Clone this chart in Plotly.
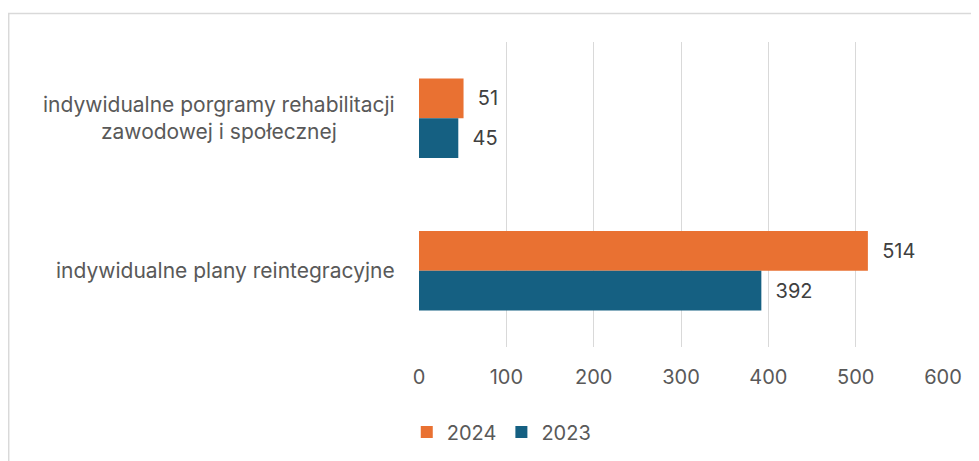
import plotly.graph_objects as go

categories = ["indywidualne porgramy rehabilitacji<br>zawodowej i społecznej",
              "indywidualne plany reintegracyjne"]
series_names = ["2024", "2023"]
values_2024 = [51, 514]
values_2023 = [45, 392]
colors = ["#E97132", "#156082"]
x_ticks = [0, 100, 200, 300, 400, 500, 600]

FONT = "Inter"
fig = go.Figure()
for name, vals, col in zip(series_names, [values_2024, values_2023], colors):
    fig.add_trace(go.Bar(
        y=categories, x=vals, name=name, orientation="h",
        marker=dict(color=col, line=dict(width=0)),
        text=[str(v) for v in vals], texttemplate="  %{text}",
        textposition="outside", cliponaxis=False,
        textfont=dict(family=FONT, size=20, color="#404040"),
    ))

for c in categories:
    fig.add_annotation(x=0, xref="paper", y=c, yref="y", text=c, showarrow=False,
                       xanchor="right", xshift=-22, align="center",
                       font=dict(family=FONT, size=21, color="#595959"))

fig.add_shape(type="rect", xref="paper", yref="paper", x0=-0.783, x1=1.2, y0=-0.5, y1=1.0934,
              line=dict(color="#D9D9D9", width=1.5), fillcolor="rgba(0,0,0,0)", layer="below")

fig.update_layout(
    width=979, height=461, barmode="group", bargap=0.48, bargroupgap=0,
    margin=dict(l=411, r=44, t=34, b=122),
    plot_bgcolor="white", paper_bgcolor="white",
    font=dict(family=FONT, color="#595959"),
    xaxis=dict(range=[0, 600], tickvals=x_ticks, showgrid=True, gridcolor="#D9D9D9",
               gridwidth=1, zeroline=False, showline=False, ticks="outside", ticklen=12,
               tickcolor="rgba(0,0,0,0)", tickfont=dict(family=FONT, size=20, color="#595959")),
    yaxis=dict(categoryorder="array", categoryarray=categories, autorange="reversed",
               showticklabels=False, showgrid=False, zeroline=False, showline=False),
    legend=dict(orientation="h", x=0.157, xanchor="center", y=-0.279, yanchor="middle",
                font=dict(family=FONT, size=20, color="#595959"), itemwidth=30,
                traceorder="normal"),
    showlegend=True,
)
fig.write_html("out.html")
